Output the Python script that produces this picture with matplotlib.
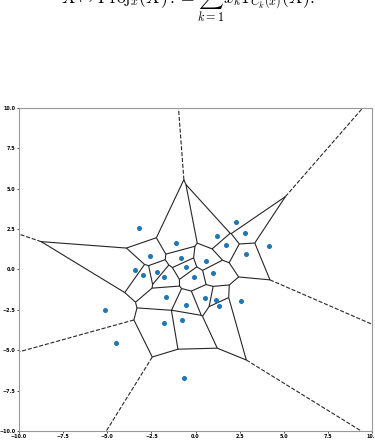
import numpy as np
import matplotlib
matplotlib.use('Agg')
from matplotlib import pyplot as plt
from matplotlib.collections import LineCollection
import matplotlib.tri as mtri

# sample points
xs = [-3.22, -1.10, -2.58, -0.82, -0.56, -3.43, -2.95, -2.18, -1.76, -1.66,
      2.29, 1.22, 2.79, 1.73, 4.18, 2.88, 0.58, 1.00, -0.07, 0.56,
      1.16, 1.35, 2.59, -0.56, -5.10, -1.78, -0.74, -4.49, -0.64]
ys = [2.55, 1.63, 0.85, 0.68, 0.16, -0.01, -0.32, -0.17, -0.49, -1.71,
      2.93, 2.04, 2.26, 1.50, 1.42, 0.93, 0.53, -0.22, -0.46, -1.76,
      -1.87, -2.25, -1.93, -2.18, -2.52, -3.30, -3.14, -4.53, -6.72]
xlim = (-10, 10)
ylim = (-10, 10)
ticks = [-10.0, -7.5, -5.0, -2.5, 0.0, 2.5, 5.0, 7.5, 10.0]

points = np.column_stack([xs, ys])

# voronoi from the delaunay triangulation
tri = mtri.Triangulation(points[:, 0], points[:, 1])
T = tri.triangles
A, B, C = points[T[:, 0]], points[T[:, 1]], points[T[:, 2]]
d = 2 * (A[:, 0] * (B[:, 1] - C[:, 1]) + B[:, 0] * (C[:, 1] - A[:, 1]) + C[:, 0] * (A[:, 1] - B[:, 1]))
a2, b2, c2 = (A ** 2).sum(1), (B ** 2).sum(1), (C ** 2).sum(1)
ux = (a2 * (B[:, 1] - C[:, 1]) + b2 * (C[:, 1] - A[:, 1]) + c2 * (A[:, 1] - B[:, 1])) / d
uy = (a2 * (C[:, 0] - B[:, 0]) + b2 * (A[:, 0] - C[:, 0]) + c2 * (B[:, 0] - A[:, 0])) / d
centers = np.column_stack([ux, uy])

center = points.mean(axis=0)
ptp_bound = np.ptp(points, axis=0)
aspect = abs(ptp_bound.max() / ptp_bound.min())

finite, infinite = [], []
for t in range(len(T)):
    for j in range(3):
        p0, p1 = T[t, j], T[t, (j + 1) % 3]
        nb = tri.neighbors[t, j]
        if nb >= 0:
            if nb > t:
                finite.append([centers[t], centers[nb]])
        else:
            tv = points[p1] - points[p0]
            tv = tv / np.linalg.norm(tv)
            n = np.array([-tv[1], tv[0]])
            mid = points[[p0, p1]].mean(axis=0)
            direction = np.sign(np.dot(mid - center, n)) * n
            far = centers[t] + direction * ptp_bound.max() * aspect
            infinite.append([centers[t], far])

fig = plt.figure(figsize=(3.75, 4.47), dpi=100)
plt.rcParams['mathtext.fontset'] = 'cm'
fig.text(0.5, 0.9995, r'$X \mapsto \mathrm{Proj}_x(X) := \sum_{k=1}^{n} x_k 1_{C_k(x)}(X).$',
         ha='center', va='center', fontsize=12.5)

ax = fig.add_axes([0.0507, 0.0358, 0.9413, 0.7232])
ax.add_collection(LineCollection(finite, colors='k', linewidths=0.8, alpha=0.85))
ax.add_collection(LineCollection(infinite, colors='k', linewidths=0.8, alpha=0.85,
                                 linestyles='dashed'))
ax.plot(points[:, 0], points[:, 1], 'o', color='C0', markersize=2.6)
ax.set_xlim(xlim)
ax.set_ylim(ylim)
ax.set_xticks(ticks)
ax.set_yticks(ticks)
ax.tick_params(labelsize=3.5, length=1.5, width=0.5, pad=1)
for lab in ax.get_xticklabels() + ax.get_yticklabels():
    lab.set_fontweight('bold')
for s in ax.spines.values():
    s.set_color('#999999')
    s.set_linewidth(0.8)

plt.savefig('out.png', dpi=100)
